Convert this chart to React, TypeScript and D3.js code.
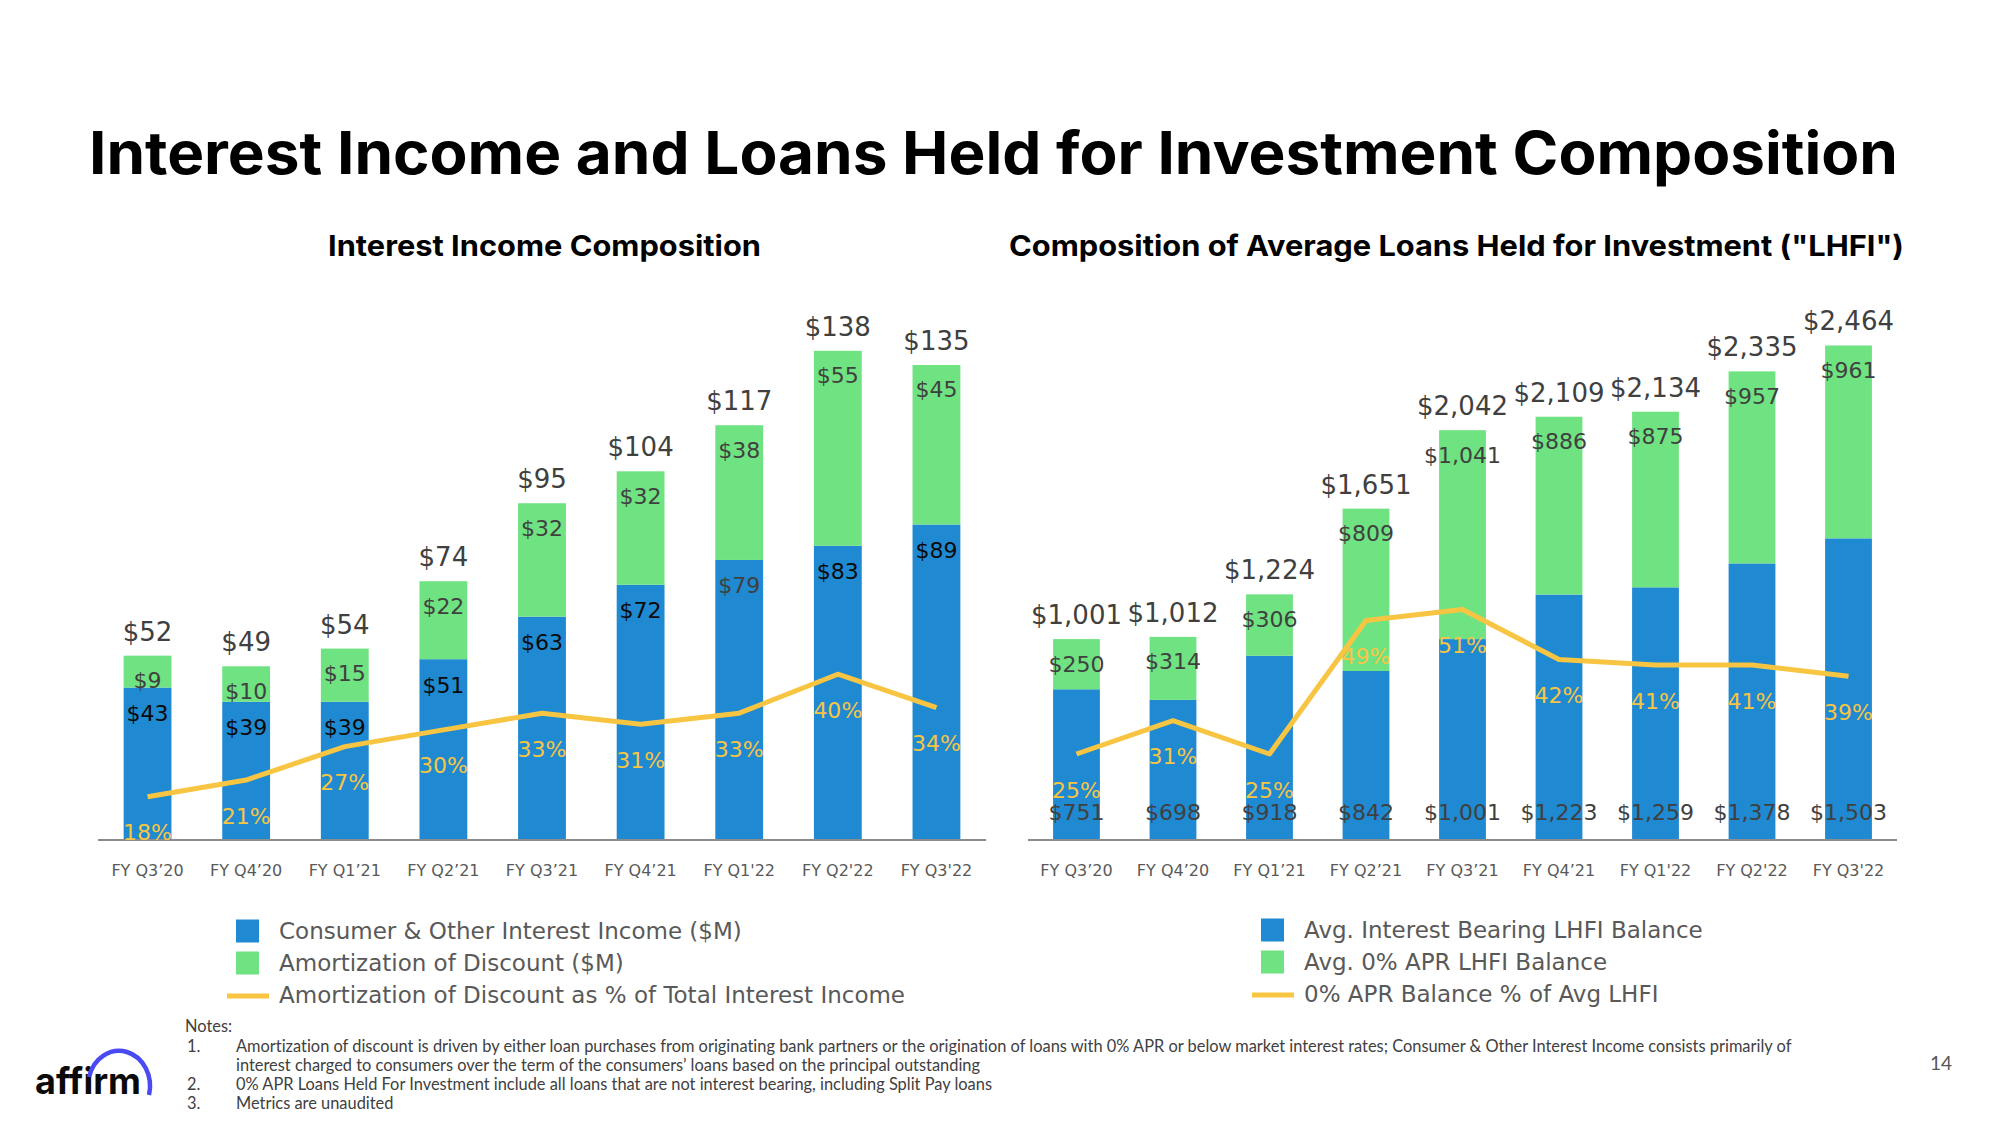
import React from 'react';
import * as d3 from 'd3';

// quarters shared by both panels
const quarters = ["FY Q3'20", "FY Q4'20", "FY Q1'21", "FY Q2'21", "FY Q3'21", "FY Q4'21", "FY Q1'22", "FY Q2'22", "FY Q3'22"];
const tickLabels = ['FY Q3\u201920', 'FY Q4\u201920', 'FY Q1\u201921', 'FY Q2\u201921', 'FY Q3\u201921', 'FY Q4\u201921', "FY Q1'22", "FY Q2'22", "FY Q3'22"];

// Interest income composition ($M)
const consumerIncome = [43, 39, 39, 51, 63, 72, 79, 83, 89];
const amortization = [9, 10, 15, 22, 32, 32, 38, 55, 45];
const incomeTotals = [52, 49, 54, 74, 95, 104, 117, 138, 135];
const amortizationPct = [18, 21, 27, 30, 33, 31, 33, 40, 34];

// Average LHFI composition ($M)
const interestBearing = [751, 698, 918, 842, 1001, 1223, 1259, 1378, 1503];
const zeroApr = [250, 314, 306, 809, 1041, 886, 875, 957, 961];
const lhfiTotals = [1001, 1012, 1224, 1651, 2042, 2109, 2134, 2335, 2464];
const zeroAprPct = [25, 31, 25, 49, 51, 42, 41, 41, 39];

const BLUE = '#1F89D1';
const GREEN = '#6FE281';
const YELLOW = '#F8C543';
const LABEL_FONT = '"DejaVu Sans", sans-serif';
const HEAD_FONT = 'Inter, Lato, sans-serif';
const NOTE_FONT = 'Lato, "Open Sans", sans-serif';

const fmt = d3.format(',');

type PanelProps = {
  x0: number;
  x1: number;
  yMax: number;
  pxPerUnit: number;
  pctZero: number;
  pctPx: number;
  bottom: number[];
  top: number[];
  totals: number[];
  pct: number[];
  bottomAtBase: boolean;
  bottomColors: string[];
};

function Panel(p: PanelProps) {
  const axisY = 840;
  const x = d3.scaleBand<string>().domain(quarters).range([p.x0, p.x1]).paddingInner(0.515).paddingOuter(0.26);
  const y = d3.scaleLinear().domain([0, p.yMax]).range([axisY, axisY - p.yMax * p.pxPerUnit]);
  const yPct = d3.scaleLinear().domain([0, 100]).range([p.pctZero, p.pctZero - 100 * p.pctPx]);
  const cx = (i: number) => (x(quarters[i]) as number) + x.bandwidth() / 2;

  const line = d3.line<number>()
    .x((_, i) => cx(i))
    .y(d => yPct(d));

  return (
    <g>
      {quarters.map((q, i) => {
        const b = p.bottom[i];
        const t = p.top[i];
        return (
          <g key={q}>
            <rect x={x(q)} y={y(b)} width={x.bandwidth()} height={y(0) - y(b)} fill={BLUE} />
            <rect x={x(q)} y={y(b + t)} width={x.bandwidth()} height={y(b) - y(b + t)} fill={GREEN} />
          </g>
        );
      })}
      <line x1={p.x0} x2={p.x1} y1={axisY} y2={axisY} stroke="#8C8C8C" strokeWidth={2} />
      <path d={line(p.pct) || ''} fill="none" stroke={YELLOW} strokeWidth={5} strokeLinejoin="round" />
      <g fontFamily={LABEL_FONT} textAnchor="middle" dominantBaseline="central">
        {quarters.map((q, i) => {
          const b = p.bottom[i];
          const t = p.top[i];
          return (
            <g key={q}>
              <text x={cx(i)} y={y(b + t) - 24} fontSize={26} fill="#404040">${fmt(p.totals[i])}</text>
              <text x={cx(i)} y={y(b + t) + 25} fontSize={22} fill="#404040">${fmt(t)}</text>
              <text x={cx(i)} y={p.bottomAtBase ? axisY - 28 : y(b) + 26} fontSize={22} fill={p.bottomColors[i]}>${fmt(b)}</text>
              <text x={cx(i)} y={yPct(p.pct[i]) + 36} fontSize={22} fill={YELLOW}>{p.pct[i]}%</text>
              <text x={cx(i)} y={870} fontSize={16} fill="#595959">{tickLabels[i]}</text>
            </g>
          );
        })}
      </g>
    </g>
  );
}

function Legend({ x, y, items }: { x: number; y: number; items: string[] }) {
  return (
    <g fontFamily={LABEL_FONT} fontSize={23} fill="#595959" dominantBaseline="central">
      <rect x={x} y={y - 11.5} width={23} height={23} fill={BLUE} />
      <text x={x + 43} y={y}>{items[0]}</text>
      <rect x={x} y={y + 32 - 11.5} width={23} height={23} fill={GREEN} />
      <text x={x + 43} y={y + 32}>{items[1]}</text>
      <line x1={x - 9} x2={x + 33} y1={y + 65} y2={y + 65} stroke={YELLOW} strokeWidth={5} />
      <text x={x + 43} y={y + 64}>{items[2]}</text>
    </g>
  );
}

const notes = [
  ['1.', 'Amortization of discount is driven by either loan purchases from originating bank partners or the origination of loans with 0% APR or below market interest rates; Consumer & Other Interest Income consists primarily of'],
  ['', 'interest charged to consumers over the term of the consumers\u2019 loans based on the principal outstanding'],
  ['2.', '0% APR Loans Held For Investment include all loans that are not interest bearing, including Split Pay loans'],
  ['3.', 'Metrics are unaudited'],
];

const noLig = { fontVariantLigatures: 'none' } as React.CSSProperties;

export default function App() {
  return (
    <svg width={2000} height={1125} style={{ position: 'absolute', left: 0, top: 0, display: 'block', background: '#fff' }}>
      <rect width={2000} height={1125} fill="#fff" />
      <g fontFamily={HEAD_FONT} fontWeight={700} fill="#000" dominantBaseline="central" style={noLig}>
        <text x={89} y={152} fontSize={59} textLength={1809} lengthAdjust="spacingAndGlyphs">
          Interest Income and Loans Held for Investment Composition
        </text>
        <text x={328} y={245} fontSize={29} textLength={433} lengthAdjust="spacingAndGlyphs">
          Interest Income Composition
        </text>
        <text x={1009} y={245} fontSize={29} textLength={895} lengthAdjust="spacingAndGlyphs">
          Composition of Average Loans Held for Investment ("LHFI")
        </text>
      </g>

      <Panel
        x0={98} x1={986} yMax={150} pxPerUnit={3.545} pctZero={897} pctPx={5.57}
        bottom={consumerIncome} top={amortization} totals={incomeTotals} pct={amortizationPct}
        bottomAtBase={false}
        bottomColors={consumerIncome.map((_, i) => (i === 6 ? '#404040' : '#0A0A0A'))}
      />
      <Panel
        x0={1028} x1={1897} yMax={2500} pxPerUnit={0.2007} pctZero={893} pctPx={5.56}
        bottom={interestBearing} top={zeroApr} totals={lhfiTotals} pct={zeroAprPct}
        bottomAtBase={true}
        bottomColors={interestBearing.map(() => '#404040')}
      />

      <Legend x={236} y={931} items={['Consumer & Other Interest Income ($M)', 'Amortization of Discount ($M)', 'Amortization of Discount as % of Total Interest Income']} />
      <Legend x={1261} y={930} items={['Avg. Interest Bearing LHFI Balance', 'Avg. 0% APR LHFI Balance', '0% APR Balance % of Avg LHFI']} />

      <g fontFamily={NOTE_FONT} fontSize={16.4} fill="#404040" dominantBaseline="central" style={noLig}>
        <text x={185} y={1025}>Notes:</text>
        {notes.map(([n, t], i) => (
          <g key={i}>
            <text x={187} y={1045 + i * 19.3}>{n}</text>
            <text x={236} y={1045 + i * 19.3}>{t}</text>
          </g>
        ))}
      </g>

      <g>
        <text x={35} y={1094} fontFamily={HEAD_FONT} fontWeight={700} fontSize={37} fill="#0A0A0A" textLength={106} lengthAdjust="spacingAndGlyphs" style={noLig}>affirm</text>
        <path d="M 89 1077 A 30 34 0 0 1 149 1095" fill="none" stroke="#4A4AF4" strokeWidth={4.5} />
      </g>
      <text x={1941} y={1062} textAnchor="middle" dominantBaseline="central" fontFamily={NOTE_FONT} fontSize={19} fill="#555">14</text>
    </svg>
  );
}
